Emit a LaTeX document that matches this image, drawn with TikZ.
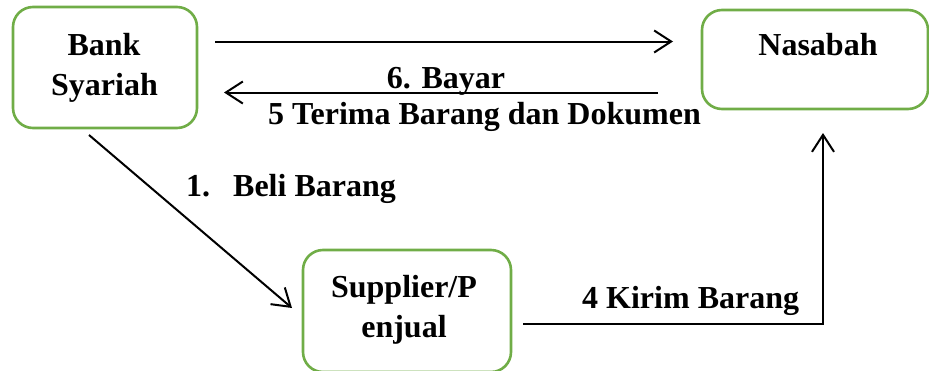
\documentclass[tikz,border=0pt]{standalone}
\usepackage{fontspec}
\setmainfont{Liberation Serif}
\usetikzlibrary{arrows.meta}
\definecolor{boxgreen}{HTML}{70AD47}
\begin{document}
\begin{tikzpicture}[x=1pt,y=-1pt,
  box/.style={draw=boxgreen, line width=2.6pt, rounded corners=20pt, inner sep=0pt},
  lbl/.style={font=\fontsize{32}{42}\selectfont\bfseries, inner sep=0pt, anchor=base},
  arr/.style={line width=2pt, -{Straight Barb[length=17pt,width=22pt]}},
]
\useasboundingbox (0,0) rectangle (929,370);

% parties
\node[box, minimum width=184pt, minimum height=121pt] (bank) at (105,67.5) {};
\node[box, minimum width=226pt, minimum height=99pt] (nasabah) at (815,59.5) {};
\node[box, minimum width=208pt, minimum height=122pt] (supplier) at (407,311) {};

\node[lbl] (bankText) at (104,55) {Bank};
\node[lbl] (syariahText) at (104.5,95) {Syariah};
\node[lbl] (nasabahText) at (818,55) {Nasabah};
\node[lbl] (supplierText) at (404,297) {Supplier/P};
\node[lbl] (penjualText) at (404,337) {enjual};

% connector end points
\coordinate (topA) at (215,41.5);
\coordinate (topB) at (673,41.5);
\coordinate (midA) at (658,92.5);
\coordinate (midB) at (224,92.5);
\coordinate (diagA) at (89,135);
\coordinate (diagB) at (292,308);
\coordinate (botA) at (523,324);
\coordinate (botC) at (823,324);
\coordinate (botB) at (823,133);

% flows
\draw[arr] (topA) -- (topB);
\draw[arr] (midA) -- (midB);
\draw[arr] (diagA) -- (diagB);
\draw[arr] (botA) -- (botC) -- (botB);

% flow labels
\node[lbl] (payText) at (446,88) {6. Bayar};
\node[lbl, anchor=base west] (receiveText) at (268,124) {5 Terima Barang dan Dokumen};
\node[lbl, anchor=base west] (buyText) at (186,196) {\makebox[47pt][l]{1.}Beli Barang};
\node[lbl, anchor=base west] (sendText) at (582,308) {4 Kirim Barang};
\end{tikzpicture}
\end{document}
